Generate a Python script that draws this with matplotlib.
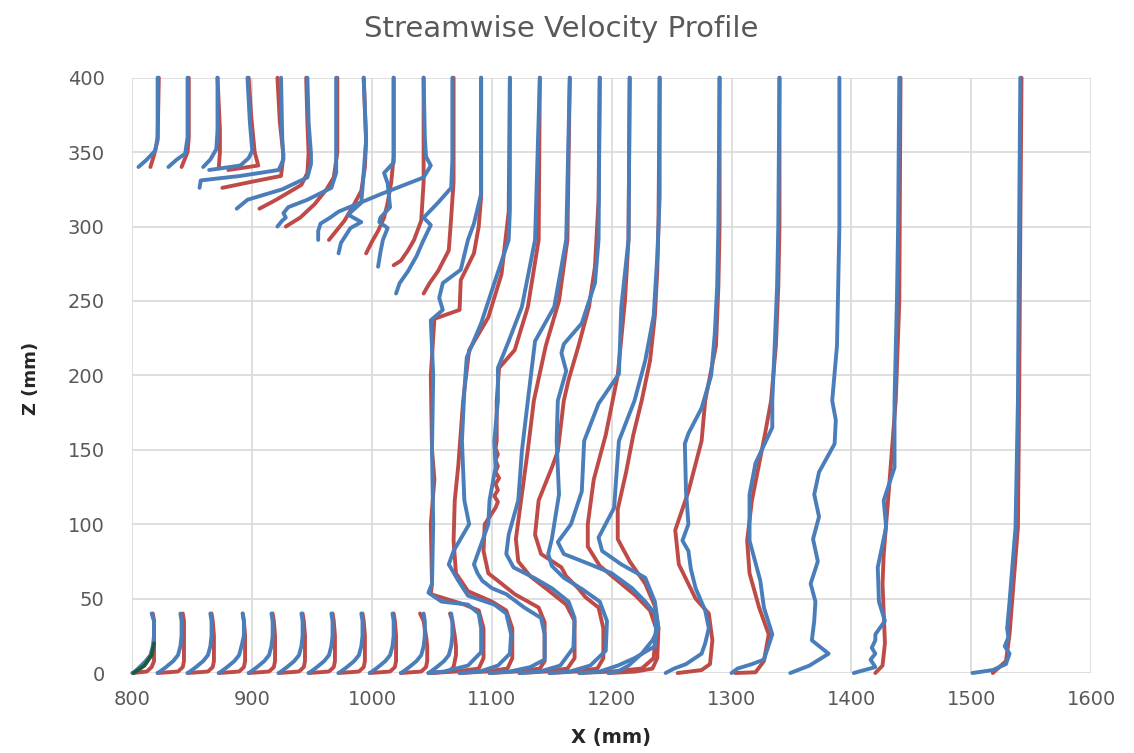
import matplotlib.pyplot as plt

plt.rcParams['font.family'] = ['DejaVu Sans']

BLUE = '#4a7ebb'
RED = '#be4b48'
GREEN = '#1f5a3c'

# short profiles below the body (z = 0..40)
lower_z = [0, 1, 4, 8, 12, 18, 25, 35, 40]
lower_blue_x = [
    [800, 802, 806, 811, 815, 817, 818, 818, 816],
    [821, 823, 828, 834, 838, 840, 841, 841, 840],
    [846, 848, 853, 859, 863, 865, 866, 866, 865],
    [872, 874, 879, 885, 889, 891, 893, 893, 892],
    [897, 899, 904, 910, 914, 916, 917, 917, 916],
    [922, 924, 929, 935, 939, 941, 942, 942, 941],
    [947, 949, 954, 960, 964, 966, 967, 967, 966],
    [972, 974, 979, 985, 989, 991, 992, 992, 991],
    [998, 1000, 1005, 1011, 1015, 1017, 1018, 1018, 1017],
    [1024, 1026, 1031, 1037, 1041, 1043, 1044, 1044, 1043],
    [1047, 1049, 1054, 1060, 1064, 1066, 1067, 1067, 1066],
]
lower_red_x = [
    [800, 812, 816, 818, 818, 818, 818, 818, 817],
    [821, 838, 842, 843, 843, 843, 843, 843, 842],
    [846, 863, 867, 868, 868, 868, 868, 867, 866],
    [872, 889, 893, 894, 894, 894, 894, 893, 892],
    [897, 914, 918, 919, 919, 919, 919, 918, 917],
    [922, 939, 943, 944, 944, 944, 944, 943, 942],
    [947, 964, 968, 969, 969, 969, 969, 968, 967],
    [972, 989, 993, 994, 994, 994, 994, 993, 992],
    [998, 1015, 1019, 1020, 1020, 1020, 1020, 1019, 1018],
    [1024, 1041, 1045, 1046, 1046, 1046, 1045, 1043, 1040],
    [1047, 1064, 1068, 1069, 1070, 1070, 1069, 1067, 1065],
]
green_z = [0, 5, 12, 20]
green_x = [801, 810, 816, 818]

# profiles above the body (sloped lower edge up to z = 400)
upper_blue_z = [
    [340, 345, 351, 360, 400],
    [340, 345, 349, 360, 400],
    [340, 345, 352, 365, 400],
    [338, 341, 346, 351, 370, 400],
    [326, 331, 334, 338, 345, 360, 400],
    [312, 318, 325, 333, 342, 349, 370, 400],
    [300, 304, 306, 309, 313, 318, 326, 336, 360, 400],
    [282, 289, 299, 303, 308, 316, 326, 358, 400],
    [273, 283, 291, 299, 303, 306, 313, 329, 336, 343, 358, 400],
    [291, 297, 302, 306, 310, 322, 333, 341, 347, 360, 400],
    [255, 262, 270, 280, 291, 301, 306, 316, 326, 345, 400],
]
upper_blue_x = [
    [805, 812, 819, 821, 821],
    [830, 837, 844, 846, 846],
    [859, 865, 870, 871, 871],
    [864, 890, 897, 900, 898, 896],
    [856, 857, 890, 922, 926, 925, 924],
    [887, 896, 925, 946, 949, 949, 947, 946],
    [921, 925, 928, 926, 930, 946, 966, 970, 970, 970],
    [972, 974, 982, 991, 980, 991, 992, 995, 993],
    [1005, 1007, 1009, 1013, 1006, 1007, 1015, 1013, 1010, 1018, 1018, 1018],
    [955, 955, 957, 965, 972, 1008, 1043, 1049, 1045, 1044, 1043],
    [1020, 1023, 1030, 1037, 1043, 1049, 1043, 1055, 1066, 1067, 1067],
]
upper_red_z = [
    [340, 348, 358, 400],
    [340, 350, 360, 400],
    [339, 350, 365, 400],
    [338, 341, 350, 375, 400],
    [326, 330, 334, 348, 370, 400],
    [312, 318, 328, 336, 349, 370, 400],
    [300, 306, 315, 325, 333, 350, 400],
    [291, 297, 304, 315, 324, 340, 358, 400],
    [282, 290, 297, 306, 316, 330, 347, 400],
    [274, 277, 284, 291, 304, 330, 400],
    [255, 262, 270, 284, 306, 330, 400],
]
upper_red_x = [
    [815, 818, 821, 822],
    [841, 846, 847, 847],
    [872, 873, 873, 871],
    [880, 905, 902, 899, 897],
    [875, 899, 924, 926, 923, 921],
    [906, 920, 941, 946, 947, 946, 945],
    [928, 940, 952, 962, 968, 971, 971],
    [964, 970, 977, 985, 991, 994, 995, 993],
    [995, 1000, 1005, 1010, 1013, 1016, 1018, 1018],
    [1018, 1024, 1030, 1035, 1041, 1043, 1043],
    [1043, 1048, 1055, 1064, 1066, 1068, 1068],
]

# full-depth profiles behind the body
full_blue_z = [
    [0, 1, 5, 14, 30, 40, 46, 48, 54, 60, 100, 150, 200, 237, 244, 252, 262, 271, 291, 302, 322, 400],
    [0, 1, 5, 13, 26, 40, 46, 52, 62, 73, 82, 100, 116, 156, 190, 212, 235, 262, 291, 311, 400],
    [0, 1, 4, 9, 26, 37, 44, 53, 57, 62, 67, 73, 82, 100, 116, 138, 156, 183, 205, 223, 246, 291, 400],
    [0, 1, 5, 17, 37, 48, 57, 64, 71, 80, 93, 116, 149, 183, 223, 246, 291, 400],
    [0, 1, 5, 15, 35, 48, 56, 64, 72, 80, 90, 100, 120, 156, 183, 203, 215, 221, 235, 262, 291, 400],
    [0, 1, 5, 10, 18, 30, 40, 48, 57, 67, 73, 80, 88, 100, 122, 156, 181, 201, 246, 291, 400],
    [0, 1, 5, 13, 22, 30, 48, 64, 73, 82, 91, 111, 134, 156, 183, 210, 240, 280, 320, 400],
    [0, 3, 6, 13, 20, 30, 42, 57, 70, 82, 89, 100, 122, 154, 161, 178, 200, 228, 260, 300, 400],
    [0, 3, 6, 9, 26, 44, 62, 89, 120, 141, 165, 183, 220, 260, 300, 400],
    [0, 5, 13, 22, 35, 48, 60, 75, 90, 105, 120, 135, 154, 170, 183, 220, 260, 300, 400],
    [0, 4, 9, 13, 17, 22, 26, 35, 48, 71, 98, 116, 138, 183, 250, 300, 400],
    [0, 2, 6, 13, 18, 24, 30, 48, 98, 183, 300, 400],
]
full_blue_x = [
    [1048, 1060, 1080, 1091, 1091, 1089, 1080, 1058, 1047, 1050, 1051, 1050, 1051, 1049, 1059, 1056, 1059, 1074, 1080, 1085, 1091, 1091],
    [1073, 1090, 1105, 1115, 1116, 1112, 1102, 1080, 1072, 1064, 1068, 1081, 1077, 1075, 1077, 1079, 1091, 1102, 1114, 1115, 1115],
    [1098, 1115, 1132, 1144, 1144, 1141, 1127, 1112, 1100, 1092, 1088, 1085, 1089, 1097, 1098, 1103, 1102, 1105, 1105, 1114, 1125, 1136, 1140],
    [1123, 1140, 1157, 1168, 1169, 1164, 1150, 1135, 1118, 1112, 1114, 1122, 1125, 1130, 1136, 1152, 1162, 1165],
    [1148, 1165, 1182, 1195, 1196, 1190, 1176, 1160, 1150, 1147, 1150, 1152, 1156, 1154, 1155, 1162, 1158, 1160, 1175, 1186, 1189, 1190],
    [1173, 1190, 1205, 1219, 1236, 1237, 1236, 1228, 1217, 1200, 1182, 1160, 1155, 1166, 1175, 1177, 1189, 1206, 1208, 1214, 1215],
    [1197, 1205, 1214, 1225, 1234, 1239, 1236, 1228, 1208, 1192, 1189, 1202, 1204, 1206, 1219, 1228, 1235, 1238, 1240, 1240],
    [1245, 1252, 1262, 1275, 1278, 1281, 1278, 1270, 1266, 1264, 1259, 1264, 1262, 1261, 1264, 1275, 1283, 1286, 1288, 1289, 1290],
    [1300, 1305, 1317, 1327, 1334, 1327, 1324, 1315, 1315, 1320, 1334, 1334, 1336, 1338, 1339, 1340],
    [1349, 1365, 1381, 1367, 1369, 1370, 1366, 1372, 1368, 1373, 1369, 1373, 1386, 1387, 1384, 1388, 1389, 1390, 1390],
    [1402, 1420, 1416, 1420, 1417, 1420, 1420, 1428, 1423, 1422, 1429, 1427, 1436, 1436, 1438, 1439, 1440],
    [1501, 1518, 1529, 1532, 1528, 1531, 1530, 1532, 1537, 1539, 1540, 1541],
]
full_red_z = [
    [0, 1, 3, 10, 30, 42, 46, 53, 60, 100, 130, 150, 200, 238, 244, 264, 282, 300, 320, 400],
    [0, 1, 3, 10, 30, 42, 48, 55, 67, 89, 116, 140, 183, 217, 239, 268, 310, 400],
    [0, 1, 3, 8, 34, 44, 53, 62, 67, 82, 100, 111, 115, 119, 123, 127, 131, 135, 139, 143, 147, 151, 156, 183, 205, 217, 246, 291, 400],
    [0, 1, 3, 10, 35, 46, 55, 65, 75, 90, 120, 150, 183, 220, 250, 291, 400],
    [0, 1, 3, 10, 30, 44, 51, 57, 65, 71, 80, 93, 116, 138, 149, 183, 197, 219, 246, 273, 318, 400],
    [0, 1, 3, 10, 30, 42, 52, 62, 72, 85, 100, 130, 160, 200, 250, 291, 400],
    [0, 1, 3, 10, 30, 45, 60, 75, 90, 110, 135, 160, 183, 210, 240, 270, 300, 400],
    [0, 2, 6, 22, 40, 50, 73, 96, 122, 156, 183, 220, 260, 300, 400],
    [0, 0.5, 8, 26, 44, 67, 89, 116, 161, 183, 220, 260, 300, 400],
    [0, 5, 20, 40, 60, 80, 120, 183, 250, 400],
    [0, 8, 26, 98, 183, 300, 400],
]
full_red_x = [
    [1048, 1070, 1089, 1093, 1093, 1089, 1077, 1049, 1050, 1049, 1052, 1050, 1049, 1052, 1073, 1074, 1085, 1089, 1091, 1091],
    [1073, 1095, 1113, 1117, 1117, 1112, 1100, 1080, 1070, 1068, 1069, 1072, 1076, 1081, 1097, 1108, 1114, 1115],
    [1098, 1120, 1140, 1144, 1144, 1139, 1119, 1105, 1097, 1093, 1094, 1103, 1105, 1102, 1105, 1103, 1106, 1103, 1105, 1103, 1105, 1103, 1104, 1104, 1106, 1119, 1130, 1139, 1140],
    [1123, 1145, 1163, 1169, 1169, 1162, 1148, 1132, 1122, 1120, 1125, 1130, 1135, 1145, 1156, 1163, 1165],
    [1148, 1170, 1188, 1193, 1193, 1189, 1178, 1172, 1162, 1158, 1141, 1136, 1139, 1150, 1155, 1160, 1164, 1172, 1181, 1186, 1189, 1190],
    [1173, 1200, 1225, 1235, 1237, 1232, 1220, 1205, 1190, 1180, 1180, 1185, 1195, 1205, 1211, 1214, 1215],
    [1198, 1220, 1234, 1238, 1239, 1236, 1228, 1215, 1205, 1205, 1212, 1218, 1225, 1232, 1236, 1238, 1239, 1240],
    [1255, 1275, 1282, 1284, 1281, 1270, 1256, 1253, 1264, 1275, 1278, 1287, 1289, 1290, 1290],
    [1303, 1320, 1327, 1331, 1323, 1315, 1313, 1317, 1328, 1333, 1337, 1339, 1340, 1340],
    [1420, 1426, 1428, 1427, 1426, 1427, 1431, 1437, 1440, 1441],
    [1518, 1529, 1532, 1539, 1540, 1541, 1542],
]

fig = plt.figure(figsize=(11.34, 7.53), dpi=100)
ax = fig.add_axes([0.1168, 0.1062, 0.8453, 0.7906])

lw = 2.8
style = dict(lw=lw, solid_capstyle='round', solid_joinstyle='round', clip_on=False)

# red series first, blue drawn on top
for x in lower_red_x:
    ax.plot(x, lower_z, color=RED, **style)
for z, x in zip(upper_red_z, upper_red_x):
    ax.plot(x, z, color=RED, **style)
for z, x in zip(full_red_z, full_red_x):
    ax.plot(x, z, color=RED, **style)

for x in lower_blue_x:
    ax.plot(x, lower_z, color=BLUE, **style)
for z, x in zip(upper_blue_z, upper_blue_x):
    ax.plot(x, z, color=BLUE, **style)
for z, x in zip(full_blue_z, full_blue_x):
    ax.plot(x, z, color=BLUE, **style)

ax.plot(green_x, green_z, color=GREEN, **style)

ax.set_xlim(800, 1600)
ax.set_ylim(0, 400)
ax.set_xticks(range(800, 1601, 100))
ax.set_yticks(range(0, 401, 50))
ax.grid(color='#d9d9d9', lw=1.2)
ax.set_axisbelow(True)
for s in ax.spines.values():
    s.set_visible(False)
ax.tick_params(axis='x', length=0, labelsize=14, labelcolor='#595959', pad=12)
ax.tick_params(axis='y', length=0, labelsize=14, labelcolor='#595959', pad=20)

fig.text(0.495, 0.962, 'Streamwise Velocity Profile', ha='center', va='center',
         fontsize=21, color='#595959')
fig.text(0.539, 0.020, 'X (mm)', ha='center', va='center', fontsize=14,
         fontweight='bold', color='#262626')
fig.text(0.027, 0.498, 'Z (mm)', ha='center', va='center', fontsize=13,
         fontweight='bold', color='#262626', rotation=90)

fig.savefig('out.png', dpi=100)
